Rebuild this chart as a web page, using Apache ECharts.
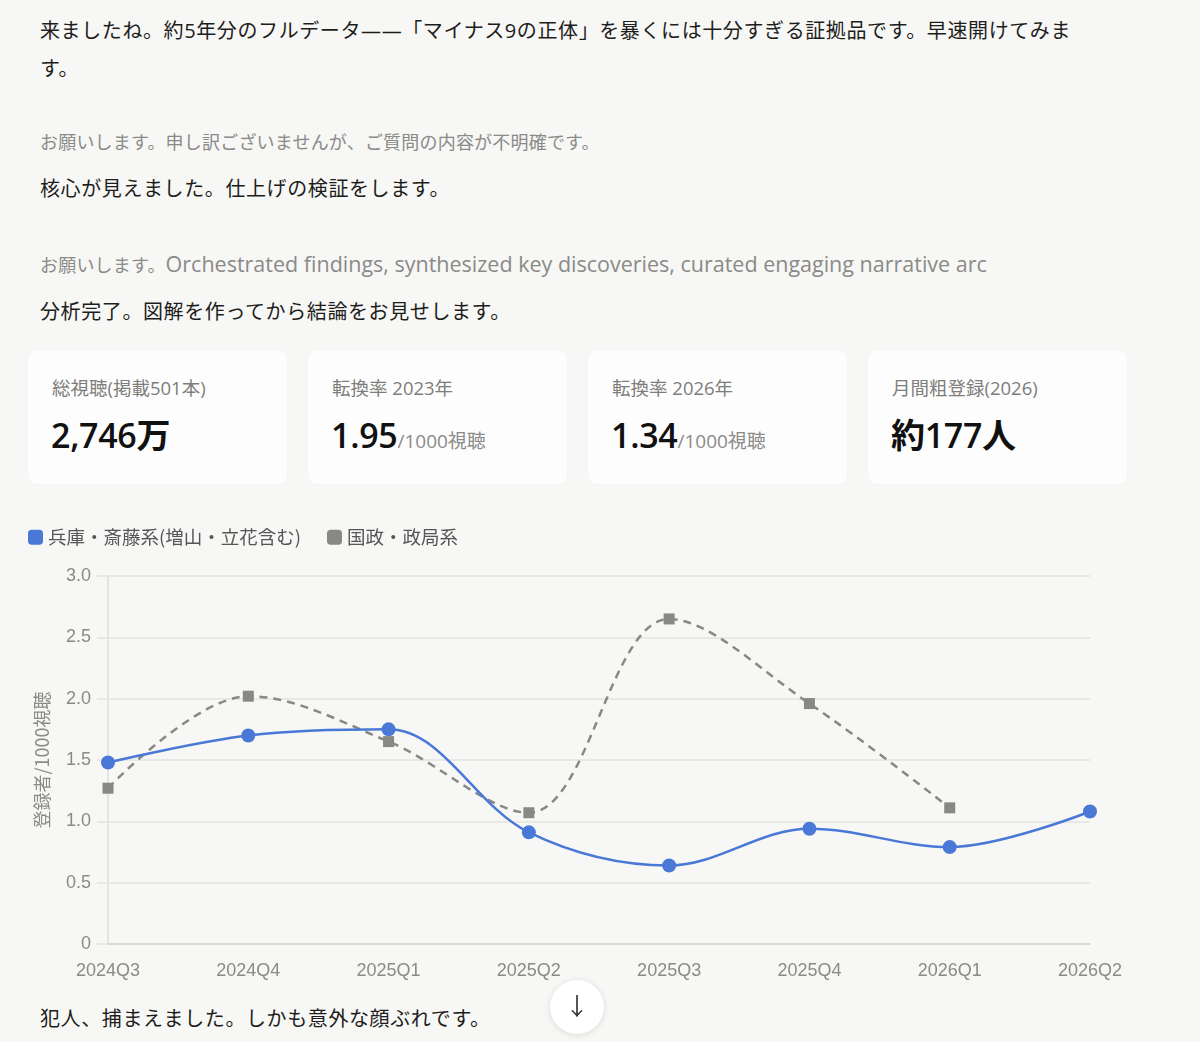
<!DOCTYPE html>
<html lang="ja">
<head>
<meta charset="utf-8">
<script src="https://cdn.jsdelivr.net/npm/echarts@6/dist/echarts.min.js"></script>
<style>
  html, body { margin:0; padding:0; background:#f7f7f5; width:1200px; height:1042px; overflow:hidden;
    font-family:"Open Sans","Noto Sans CJK JP",sans-serif; }
  .t { position:absolute; left:40px; white-space:nowrap; }
  .dark { font-size:20px; line-height:38px; color:#1d1d1b; letter-spacing:0.6px; }
  .gray { font-size:18px; line-height:30px; color:#8a8a88; letter-spacing:0.2px; }
  .gray .en { font-size:21.5px; letter-spacing:0; }
  .card { position:absolute; top:350px; width:259px; height:134px; background:#fdfdfd; border-radius:9px;
    box-shadow:0 0 3px rgba(0,0,0,0.03); }
  .card .lab { position:absolute; left:24px; top:24px; font-size:18.5px; line-height:28px; color:#7d7d7b; white-space:nowrap; }
  .card .val { position:absolute; left:23px; top:62px; font-size:34px; line-height:46px; color:#111; font-weight:600; white-space:nowrap; letter-spacing:-0.3px; }
  .card .val small { font-size:19px; color:#8a8a88; font-weight:400; letter-spacing:0; }
  #chart { position:absolute; left:0; top:515px; width:1200px; height:480px; }
  #btn { position:absolute; left:550px; top:980px; width:54px; height:54px; border-radius:50%; background:#fff;
    box-shadow:0 1px 6px rgba(0,0,0,0.12); text-align:center; line-height:52px; font-size:24px; color:#333; }
</style>
</head>
<body>
<div class="t dark" style="top:12px;">来ましたね。約5年分のフルデータ——「マイナス9の正体」を暴くには十分すぎる証拠品です。早速開けてみま<br>す。</div>
<div class="t gray" style="top:127px;">お願いします。申し訳ございませんが、ご質問の内容が不明確です。</div>
<div class="t dark" style="top:170px;">核心が見えました。仕上げの検証をします。</div>
<div class="t gray" style="top:249px;">お願いします。<span class="en">Orchestrated findings, synthesized key discoveries, curated engaging narrative arc</span></div>
<div class="t dark" style="top:293px;">分析完了。図解を作ってから結論をお見せします。</div>

<div id="cards"></div>
<div id="chart"></div>
<div class="t dark" style="top:1000px;">犯人、捕まえました。しかも意外な顔ぶれです。</div>
<div id="btn">↓</div>

<script>
// ---- KPI cards ----
const cardLabels = ["総視聴(掲載501本)", "転換率 2023年", "転換率 2026年", "月間粗登録(2026)"];
const cardValues = ["2,746万", "1.95", "1.34", "約177人"];
const cardUnits  = ["", "/1000視聴", "/1000視聴", ""];

// ---- chart data ----
const quarters = ["2024Q3","2024Q4","2025Q1","2025Q2","2025Q3","2025Q4","2026Q1","2026Q2"];
const hyogoSaito = [1.48, 1.70, 1.75, 0.91, 0.64, 0.94, 0.79, 1.08];
const kokusei    = [1.27, 2.02, 1.65, 1.07, 2.65, 1.96, 1.11, null];
const seriesNames = ["兵庫・斎藤系(増山・立花含む)", "国政・政局系"];
const yTicks = ["0","0.5","1.0","1.5","2.0","2.5","3.0"];
const yAxisName = "登録者/1000視聴";

const cardsEl = document.getElementById('cards');
cardLabels.forEach((l, i) => {
  const c = document.createElement('div');
  c.className = 'card';
  c.style.left = (28 + i * 280) + 'px';
  c.innerHTML = '<div class="lab">' + l + '</div><div class="val">' + cardValues[i] +
    (cardUnits[i] ? '<small>' + cardUnits[i] + '</small>' : '') + '</div>';
  cardsEl.appendChild(c);
});

const chart = echarts.init(document.getElementById('chart'), null, { renderer: 'canvas' });
const axisFont = '"Liberation Sans", Arial, sans-serif';
chart.setOption({
  animation: false,
  backgroundColor: 'transparent',
  legend: {
    left: 23, top: 8,
    icon: 'roundRect', itemWidth: 15, itemHeight: 15, itemGap: 26,
    textStyle: { fontSize: 18.5, color: '#555', fontFamily: '"Noto Sans CJK JP", sans-serif' },
    data: seriesNames
  },
  grid: { left: 108, right: 110, top: 61, bottom: 51, containLabel: false },
  xAxis: {
    type: 'category', data: quarters, boundaryGap: false,
    axisLine: { show: true, lineStyle: { color: '#d4d4d2', width: 1.5 } },
    axisTick: { show: false },
    axisLabel: { color: '#8a8a88', fontSize: 18, fontFamily: axisFont, margin: 18 },
    splitLine: { show: false }
  },
  yAxis: {
    type: 'value', min: 0, max: 3, interval: 0.5,
    name: yAxisName, nameLocation: 'middle', nameGap: 57,
    nameTextStyle: { color: '#8a8a88', fontSize: 18, fontFamily: '"Noto Sans CJK JP", sans-serif' },
    axisLine: { show: true, lineStyle: { color: '#dedede', width: 1.5 } },
    axisTick: { show: true, length: 11, lineStyle: { color: '#e3e3e1', width: 1.5 } },
    axisLabel: {
      color: '#8a8a88', fontSize: 18, fontFamily: axisFont, margin: 17,
      formatter: v => yTicks[Math.round(v * 2)]
    },
    splitLine: { show: true, lineStyle: { color: '#e3e3e1', width: 1.5 } }
  },
  series: [
    {
      name: seriesNames[0], type: 'line', data: hyogoSaito, smooth: 0.35,
      symbol: 'circle', symbolSize: 14, z: 3,
      lineStyle: { color: '#4a78d6', width: 2.5 },
      itemStyle: { color: '#4a78d6' }
    },
    {
      name: seriesNames[1], type: 'line', data: kokusei, smooth: 0.35,
      symbol: 'rect', symbolSize: 11, z: 2,
      lineStyle: { color: '#888886', width: 2.5, type: [8, 6] },
      itemStyle: { color: '#888886' }
    }
  ]
});
</script>
</body>
</html>
